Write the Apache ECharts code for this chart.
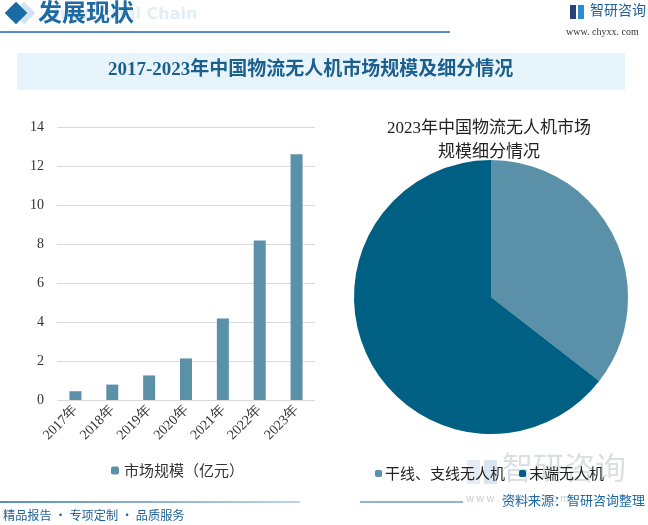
<!DOCTYPE html>
<html>
<head>
<meta charset="utf-8">
<script src="https://cdn.jsdelivr.net/npm/echarts@6/dist/echarts.min.js"></script>
<style>
  html, body { margin: 0; padding: 0; background: #fff; }
  #chart { width: 648px; height: 525px; }
</style>
</head>
<body>
<div id="chart"></div>
<script>
const years = ['2017年', '2018年', '2019年', '2020年', '2021年', '2022年', '2023年'];
const marketSize = [0.45, 0.79, 1.26, 2.13, 4.18, 8.18, 12.6];
const pieNames = ['干线、支线无人机', '末端无人机'];
const pieValues = [35.5, 64.5];
const yTicks = { min: 0, max: 14, interval: 2 };

const serif = '"Liberation Serif", "DejaVu Serif", serif';
const cjk = '"Noto Sans CJK SC", sans-serif';

const chart = echarts.init(document.getElementById('chart'));

const option = {
    backgroundColor: '#fff',
    animation: false,
    title: [
        {
            text: '2023年中国物流无人机市场\n规模细分情况',
            left: 484,
            top: 112,
            textAlign: 'center',
            textStyle: { fontFamily: serif + ', ' + cjk, fontSize: 17, fontWeight: 'normal', color: '#222', lineHeight: 24 }
        }
    ],
    legend: [
        {
            data: ['市场规模（亿元）'],
            left: 106,
            top: 458,
            itemWidth: 8,
            itemHeight: 8,
            itemGap: 4,
            textStyle: { fontFamily: cjk, fontSize: 15, color: '#333' }
        },
        {
            data: pieNames,
            left: 370,
            top: 461,
            itemWidth: 7,
            itemHeight: 7,
            itemGap: 14,
            textStyle: { fontFamily: cjk, fontSize: 15, color: '#222', padding: [0, 0, 0, -2] }
        }
    ],
    grid: { left: 57, right: 333, top: 127, bottom: 125 },
    xAxis: {
        type: 'category',
        data: years,
        axisLine: { show: false },
        axisTick: { show: false },
        axisLabel: { rotate: 45, fontFamily: serif, fontSize: 14, color: '#333', margin: 8 }
    },
    yAxis: {
        type: 'value',
        min: yTicks.min,
        max: yTicks.max,
        interval: yTicks.interval,
        axisLine: { show: false },
        axisTick: { show: false },
        axisLabel: { fontFamily: serif, fontSize: 14, color: '#333', margin: 13 },
        splitLine: { lineStyle: { color: '#d9d9d9' } }
    },
    series: [
        {
            name: '市场规模（亿元）',
            type: 'bar',
            data: marketSize,
            barWidth: 12,
            itemStyle: { color: '#5b91a8' }
        },
        {
            name: 'share',
            type: 'pie',
            center: [491, 297],
            radius: 137,
            startAngle: 90,
            clockwise: true,
            z: 3,
            label: { show: false },
            labelLine: { show: false },
            data: pieNames.map((n, i) => ({
                name: n,
                value: pieValues[i],
                itemStyle: { color: i === 0 ? '#5b91a8' : '#006083' }
            }))
        }
    ],
    graphic: [
        // watermark near the pie legend
        { type: 'text', left: 502, top: 452, z: -10, style: { text: '智研咨询', fontFamily: cjk, fontSize: 31, fill: '#dcdfe2' } },
        { type: 'rect', shape: { x: 467, y: 460, width: 13, height: 24 }, z: -10, style: { fill: '#e6ecf2' } },
        { type: 'rect', shape: { x: 484, y: 460, width: 13, height: 24 }, z: -10, style: { fill: '#d9e6f2' } },
        { type: 'text', left: 466, top: 493, z: -10, style: { text: 'w w w . c h y x x . c o m', fontFamily: cjk, fontSize: 10, fill: '#c8ccd0' } },
        // header
        { type: 'text', left: 54, top: 7, z: -5, style: { text: 'Industrial Chain', fontFamily: '"DejaVu Sans", sans-serif', fontSize: 16, fontWeight: 'bold', fill: '#e3edf6' } },
        { type: 'rect', shape: { x: 8, y: 5, width: 16, height: 16 }, rotation: Math.PI / 4, originX: 16, originY: 13, x: 8,
          style: { fill: '#d3e3f0' } },
        { type: 'rect', shape: { x: 8, y: 5, width: 16, height: 16 }, rotation: Math.PI / 4, originX: 16, originY: 13,
          style: { fill: '#1a6aa3' } },
        { type: 'text', left: 38, top: 0, style: { text: '发展现状', fontFamily: cjk, fontSize: 24, fontWeight: 'bold', fill: '#1e6ba3' } },
        { type: 'line', shape: { x1: 0, y1: 32, x2: 450, y2: 32 }, style: { stroke: '#1f6aa0', lineWidth: 1.5 } },
        { type: 'text', left: 566, top: 27, style: { text: 'www. chyxx. com', fontFamily: serif, fontSize: 10, fill: '#333' } },
        { type: 'rect', shape: { x: 570, y: 5, width: 6, height: 14 }, style: { fill: '#26407a' } },
        { type: 'rect', shape: { x: 578, y: 5, width: 6, height: 14 }, style: { fill: '#2d8ad0' } },
        { type: 'text', left: 590, top: 3, style: { text: '智研咨询', fontFamily: cjk, fontSize: 14, fill: '#1f5f95' } },
        // title band
        { type: 'rect', shape: { x: 17, y: 53, width: 608, height: 37 }, style: { fill: '#e8f4fc' } },
        { type: 'text', left: 108, top: 61, style: { text: '2017-2023年中国物流无人机市场规模及细分情况', fontFamily: serif + ', ' + cjk, fontSize: 19, fontWeight: 'bold', fill: '#1b5f8c' } },
        // footer
        { type: 'line', shape: { x1: 0, y1: 502, x2: 300, y2: 502 },
          style: { stroke: new echarts.graphic.LinearGradient(0, 0, 1, 0, [
              { offset: 0, color: '#1f6aa0' }, { offset: 1, color: '#a9c7de' }]), lineWidth: 1.5 } },
        { type: 'line', shape: { x1: 360, y1: 502, x2: 463, y2: 502 }, style: { stroke: '#1f6aa0', lineWidth: 1 } },
        { type: 'text', left: 3, top: 509, style: { text: '精品报告 · 专项定制 · 品质服务', fontFamily: cjk, fontSize: 12.2, fill: '#1f5f95' } },
        { type: 'text', right: 3, top: 494, style: { text: '资料来源：智研咨询整理', fontFamily: cjk, fontSize: 13, fill: '#1f6aa5' } }
    ]
};

chart.setOption(option);
</script>
</body>
</html>
